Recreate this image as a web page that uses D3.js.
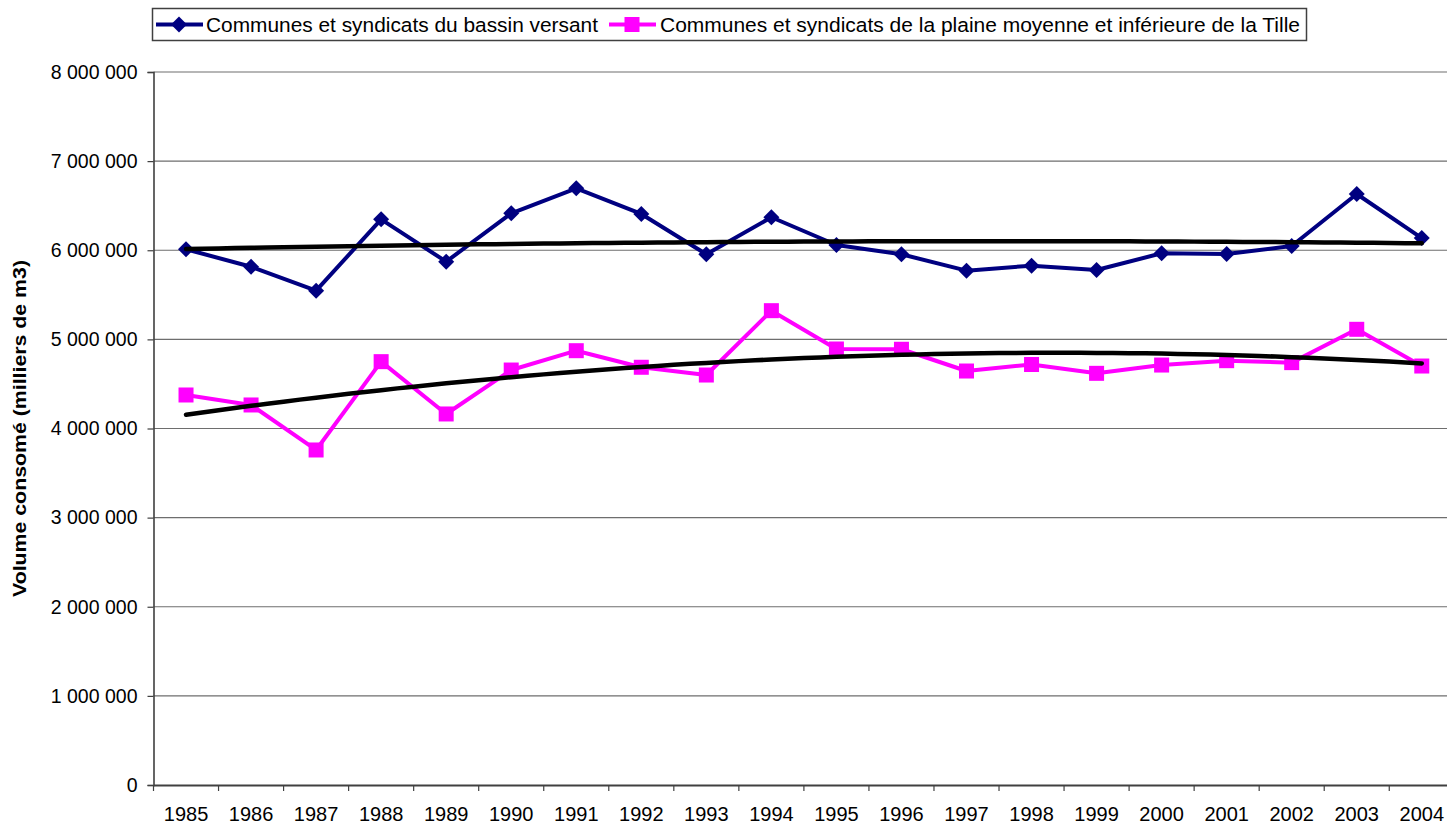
<!DOCTYPE html>
<html>
<head>
<meta charset="utf-8">
<script src="https://cdn.jsdelivr.net/npm/d3@7"></script>
<style>
  html, body { margin: 0; padding: 0; background: #fff; }
  svg { display: block; }
  text { font-family: "Liberation Sans", Arial, sans-serif; fill: #000; }
</style>
</head>
<body>
<svg id="chart" width="1447" height="827"></svg>
<script>
const years = ["1985","1986","1987","1988","1989","1990","1991","1992","1993","1994",
               "1995","1996","1997","1998","1999","2000","2001","2002","2003","2004"];
const bassinVersant = [6011000, 5815000, 5546000, 6347000, 5872000, 6415000, 6695000, 6407000, 5955000, 6370000,
                       6059000, 5955000, 5771000, 5827000, 5778000, 5966000, 5958000, 6048000, 6631000, 6137000];
const plaineTille = [4376000, 4264000, 3759000, 4750000, 4163000, 4656000, 4873000, 4687000, 4600000, 5322000,
                     4892000, 4889000, 4645000, 4718000, 4619000, 4712000, 4761000, 4739000, 5113000, 4701000];
const yTicks = [0, 1000000, 2000000, 3000000, 4000000, 5000000, 6000000, 7000000, 8000000];
const seriesNames = ["Communes et syndicats du bassin versant",
                     "Communes et syndicats de la plaine moyenne et inférieure de la Tille"];
const yTitle = "Volume consomé (milliers de m3)";

(function () {
const svg = d3.select("#chart");
const pLeft = 153.5, pRight = 1454.3, pTop = 72, pBottom = 785;

const x = d3.scaleBand().domain(years).range([pLeft, pRight]).padding(0);
const y = d3.scaleLinear().domain([0, 8000000]).range([pBottom, pTop]);
const cx = d => x(d) + x.bandwidth() / 2;

const fr = d3.formatLocale({decimal: ",", thousands: " ", grouping: [3], currency: ["", "€"]});
const fmt = fr.format(",d");

// gridlines
svg.append("g").selectAll("line").data(yTicks.filter(t => t > 0)).join("line")
  .attr("x1", pLeft).attr("x2", 1447)
  .attr("y1", d => y(d)).attr("y2", d => y(d))
  .attr("stroke", "#6e6e6e").attr("stroke-width", 1.2);

// y axis
const yAxis = svg.append("g").attr("transform", `translate(${pLeft},0)`)
  .call(d3.axisLeft(y).tickValues(yTicks).tickFormat(fmt).tickSize(6).tickPadding(10));
yAxis.select(".domain").attr("stroke", "#404040").attr("stroke-width", 1.6);
yAxis.selectAll(".tick line").attr("stroke", "#404040").attr("stroke-width", 1.2);
yAxis.selectAll("text").attr("font-size", "19.5px").attr("fill", "#000")
  .style("font-family", "'Liberation Sans', Arial, sans-serif");

// x axis
const xAxis = svg.append("g").attr("transform", `translate(0,${pBottom})`)
  .call(d3.axisBottom(x).tickSize(0).tickPadding(22));
xAxis.select(".domain").attr("stroke", "#404040").attr("stroke-width", 1.8);
xAxis.selectAll("text").attr("font-size", "20px").attr("fill", "#000")
  .style("font-family", "'Liberation Sans', Arial, sans-serif");
// category boundary ticks
svg.append("g").selectAll("line").data(years).join("line")
  .attr("x1", d => x(d)).attr("x2", d => x(d))
  .attr("y1", pBottom).attr("y2", pBottom + 6)
  .attr("stroke", "#404040").attr("stroke-width", 1.2);

// y title
svg.append("text")
  .attr("transform", `translate(26,${(pTop + pBottom) / 2}) rotate(-90)`)
  .attr("text-anchor", "middle")
  .attr("font-size", "19px").attr("font-weight", "bold")
  .attr("textLength", 337).attr("lengthAdjust", "spacingAndGlyphs")
  .text(yTitle);

// polynomial (order 2) trend, least squares
function polyFit2(vals) {
  let s = [0,0,0,0,0], t = [0,0,0];
  vals.forEach((v, i) => {
    const xi = i + 1;
    for (let k = 0; k < 5; k++) s[k] += Math.pow(xi, k);
    for (let k = 0; k < 3; k++) t[k] += v * Math.pow(xi, k);
  });
  const A = [[s[0], s[1], s[2]], [s[1], s[2], s[3]], [s[2], s[3], s[4]]];
  const b = t.slice();
  for (let i = 0; i < 3; i++) {
    for (let j = i + 1; j < 3; j++) {
      const f = A[j][i] / A[i][i];
      for (let k = i; k < 3; k++) A[j][k] -= f * A[i][k];
      b[j] -= f * b[i];
    }
  }
  const c = [0,0,0];
  for (let i = 2; i >= 0; i--) {
    let sum = b[i];
    for (let k = i + 1; k < 3; k++) sum -= A[i][k] * c[k];
    c[i] = sum / A[i][i];
  }
  return xi => c[0] + c[1] * xi + c[2] * xi * xi;
}

const x0 = cx(years[0]), step = x.bandwidth();
const seriesList = [
  {vals: bassinVersant, color: "#000080", marker: "diamond"},
  {vals: plaineTille, color: "#FF00FF", marker: "square"}
];

const line = d3.line().x((d, i) => cx(years[i])).y(d => y(d));

seriesList.forEach(s => {
  svg.append("path").datum(s.vals).attr("d", line)
    .attr("fill", "none").attr("stroke", s.color).attr("stroke-width", 4)
    .attr("stroke-linejoin", "round");
  const g = svg.append("g");
  if (s.marker === "diamond") {
    g.selectAll("path").data(s.vals).join("path")
      .attr("d", (d, i) => { const px = cx(years[i]), py = y(d), r = 8;
        return `M${px},${py - r}L${px + r},${py}L${px},${py + r}L${px - r},${py}Z`; })
      .attr("fill", s.color);
  } else {
    g.selectAll("rect").data(s.vals).join("rect")
      .attr("x", (d, i) => cx(years[i]) - 7.5).attr("y", d => y(d) - 7.5)
      .attr("width", 15).attr("height", 15).attr("fill", s.color);
  }
});

// trend lines on top
seriesList.forEach(s => {
  const f = polyFit2(s.vals);
  const pts = d3.range(1, 20.001, 0.25).map(xi => [x0 + (xi - 1) * step, y(f(xi))]);
  svg.append("path").attr("d", d3.line()(pts))
    .attr("fill", "none").attr("stroke", "#000").attr("stroke-width", 4.5)
    .attr("stroke-linecap", "round");
});

// legend
const lg = svg.append("g");
lg.append("rect").attr("x", 152.5).attr("y", 8.5).attr("width", 1154).attr("height", 32)
  .attr("fill", "#fff").attr("stroke", "#404040").attr("stroke-width", 1.5);
const legendItems = [
  {name: seriesNames[0], color: "#000080", marker: "diamond", lx: 156, tx: 206, tw: 392},
  {name: seriesNames[1], color: "#FF00FF", marker: "square", lx: 609, tx: 660, tw: 640}
];
legendItems.forEach(it => {
  const ly = 24.5, mx = it.lx + 23;
  lg.append("line").attr("x1", it.lx).attr("x2", it.lx + 47).attr("y1", ly).attr("y2", ly)
    .attr("stroke", it.color).attr("stroke-width", 4);
  if (it.marker === "diamond") {
    lg.append("path").attr("d", `M${mx},${ly - 8}L${mx + 8},${ly}L${mx},${ly + 8}L${mx - 8},${ly}Z`).attr("fill", it.color);
  } else {
    lg.append("rect").attr("x", mx - 7.5).attr("y", ly - 7.5).attr("width", 15).attr("height", 15).attr("fill", it.color);
  }
  lg.append("text").attr("x", it.tx).attr("y", 32).attr("font-size", "20.5px")
    .attr("textLength", it.tw).attr("lengthAdjust", "spacingAndGlyphs")
    .text(it.name);
});
})();
</script>
</body>
</html>
